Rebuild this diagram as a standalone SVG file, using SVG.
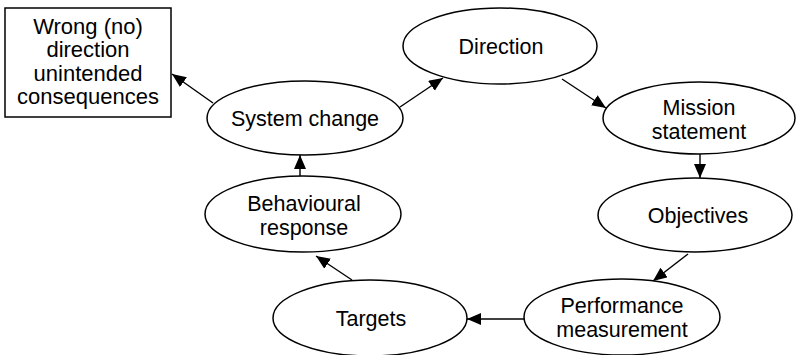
<svg xmlns="http://www.w3.org/2000/svg" width="796" height="355" viewBox="0 0 796 355">
  <style>
    .shape { fill: #ffffff; stroke: #000000; stroke-width: 1.5; }
    .label { font-family: "Liberation Sans", Arial, sans-serif; font-size: 21.5px; fill: #000000; text-anchor: middle; }
    .box-label { font-size: 22px; }
    .conn { stroke: #000000; stroke-width: 1.4; fill: none; marker-end: url(#arrow); }
  </style>
  <defs>
    <marker id="arrow" markerUnits="userSpaceOnUse" markerWidth="15" markerHeight="13" refX="14" refY="6" orient="auto">
      <path d="M0,0 L14,6 L0,12 z" fill="#000000"/>
    </marker>
  </defs>

  <rect width="796" height="355" fill="#ffffff"/>

  <!-- connectors -->
  <g id="connectors">
    <line class="conn" x1="213" y1="103" x2="172" y2="74"/>
    <line class="conn" x1="400" y1="107" x2="443" y2="78"/>
    <line class="conn" x1="562" y1="79" x2="606" y2="108"/>
    <line class="conn" x1="700" y1="154" x2="700" y2="178"/>
    <line class="conn" x1="688" y1="254" x2="653" y2="281"/>
    <line class="conn" x1="524" y1="319" x2="467" y2="319"/>
    <line class="conn" x1="352" y1="280" x2="316" y2="256"/>
    <line class="conn" x1="300" y1="177" x2="300" y2="155"/>
  </g>

  <!-- nodes -->
  <g id="wrong-direction">
    <rect class="shape" x="5" y="8" width="166" height="109"/>
    <text class="label box-label" x="88" y="34">Wrong (no)</text>
    <text class="label box-label" x="88" y="57">direction</text>
    <text class="label box-label" x="88" y="81">unintended</text>
    <text class="label box-label" x="88" y="104">consequences</text>
  </g>

  <g id="direction">
    <ellipse class="shape" cx="500" cy="46" rx="97" ry="38"/>
    <text class="label" x="501" y="54">Direction</text>
  </g>

  <g id="mission-statement">
    <ellipse class="shape" cx="699" cy="118" rx="96" ry="36"/>
    <text class="label" x="699" y="115">Mission</text>
    <text class="label" x="699" y="139">statement</text>
  </g>

  <g id="objectives">
    <ellipse class="shape" cx="695" cy="215" rx="97" ry="37"/>
    <text class="label" x="698" y="223">Objectives</text>
  </g>

  <g id="performance-measurement">
    <ellipse class="shape" cx="622" cy="317" rx="98" ry="38"/>
    <text class="label" x="622" y="313">Performance</text>
    <text class="label" x="622" y="337">measurement</text>
  </g>

  <g id="targets">
    <ellipse class="shape" cx="370" cy="318" rx="97" ry="38"/>
    <text class="label" x="371" y="326">Targets</text>
  </g>

  <g id="behavioural-response">
    <ellipse class="shape" cx="303" cy="214" rx="98" ry="38"/>
    <text class="label" x="304" y="211">Behavioural</text>
    <text class="label" x="304" y="235">response</text>
  </g>

  <g id="system-change">
    <ellipse class="shape" cx="305" cy="118" rx="98" ry="37"/>
    <text class="label" x="305" y="126">System change</text>
  </g>
</svg>
